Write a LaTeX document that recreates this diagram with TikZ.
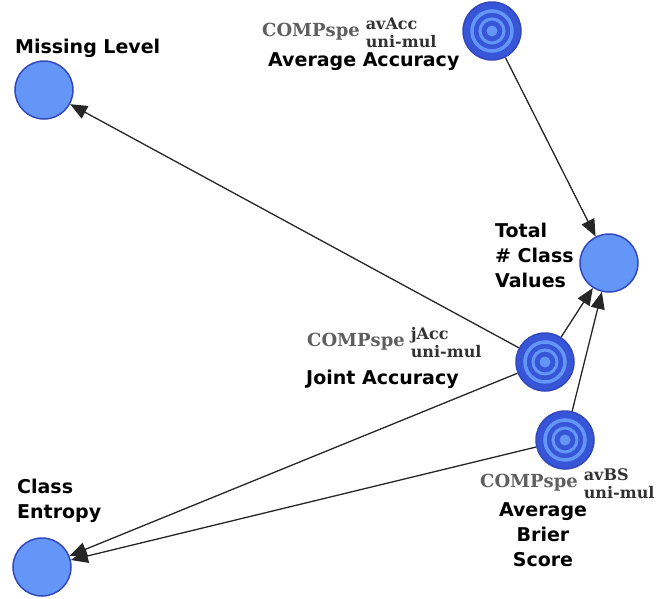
\documentclass[tikz,border=0pt]{standalone}
\usepackage{fontspec}
\setmainfont{DejaVu Sans}
\newfontfamily\compfont{DejaVu Serif}
\usetikzlibrary{arrows.meta}

\definecolor{nodefill}{RGB}{100,150,248}
\definecolor{nodeborder}{RGB}{52,72,190}
\definecolor{targetdark}{RGB}{55,85,215}
\definecolor{compgray}{RGB}{95,95,95}
\definecolor{idxgray}{RGB}{50,50,50}

\newcommand\complabel[2]{{\compfont\bfseries\fontsize{18}{18}\selectfont\color{compgray}COMPspe}\hspace{6pt}%
  \raisebox{-11pt}{\compfont\bfseries\fontsize{16}{18}\selectfont\color{idxgray}\vbox{\baselineskip=17.5pt\hbox{#1}\hbox{#2}}}}

\begin{document}
\begin{tikzpicture}[
  x = 1pt,
  y = -1pt,
  plainnode/.style = {circle, draw = nodeborder, fill = nodefill, line width = 1.5pt, inner sep = 0pt, minimum size = 58pt},
  targetnode/.style = {plainnode, fill = targetdark,
    path picture = {
      \draw[nodefill, line width = 3.5pt] (path picture bounding box.center) circle (20pt);
      \draw[nodefill, line width = 3pt] (path picture bounding box.center) circle (12pt);
      \fill[nodefill] (path picture bounding box.center) circle (5.5pt);
    }},
  namelabel/.style = {inner sep = 0pt, font = \bfseries\fontsize{19}{25}\selectfont},
  complbl/.style = {inner sep = 0pt, anchor = base west},
  edge/.style = {draw = black!85, line width = 1.3pt, -{Triangle[length = 17pt, width = 14pt]}}
]
  \useasboundingbox (0, 0) rectangle (667, 598);

  \node[plainnode]  (miss)    at (44, 90)   {};
  \node[targetnode] (avacc)   at (492, 31)  {};
  \node[plainnode]  (total)   at (609, 263) {};
  \node[targetnode] (joint)   at (545, 362) {};
  \node[targetnode] (brier)   at (565, 440) {};
  \node[plainnode]  (entropy) at (42, 567)  {};

  \node[namelabel, anchor = base west] (missname) at (15, 53) {Missing Level};
  \node[complbl] (avacccomp) at (262, 36) {\complabel{avAcc}{uni-mul}};
  \node[namelabel, anchor = base west] (avaccname) at (268, 66) {Average Accuracy};
  \node[namelabel, anchor = base west, align = left] (totalname) at (495, 287) {Total\\\# Class\\Values};
  \node[complbl] (jointcomp) at (307, 346) {\complabel{jAcc}{uni-mul}};
  \node[namelabel, anchor = base west] (jointname) at (306, 384) {Joint Accuracy};
  \node[complbl] (briercomp) at (480, 487) {\complabel{avBS}{uni-mul}};
  \node[namelabel, anchor = base, align = center] (briername) at (543, 566) {Average\\Brier\\Score};
  \node[namelabel, anchor = base west, align = left] (entropyname) at (17, 518) {Class\\Entropy};

  \draw[edge] (avacc) -- (total);
  \draw[edge] (joint) -- (miss);
  \draw[edge] (joint) -- (total);
  \draw[edge] (joint) -- (entropy);
  \draw[edge] (brier) -- (total);
  \draw[edge] (brier) -- (entropy);
\end{tikzpicture}
\end{document}
